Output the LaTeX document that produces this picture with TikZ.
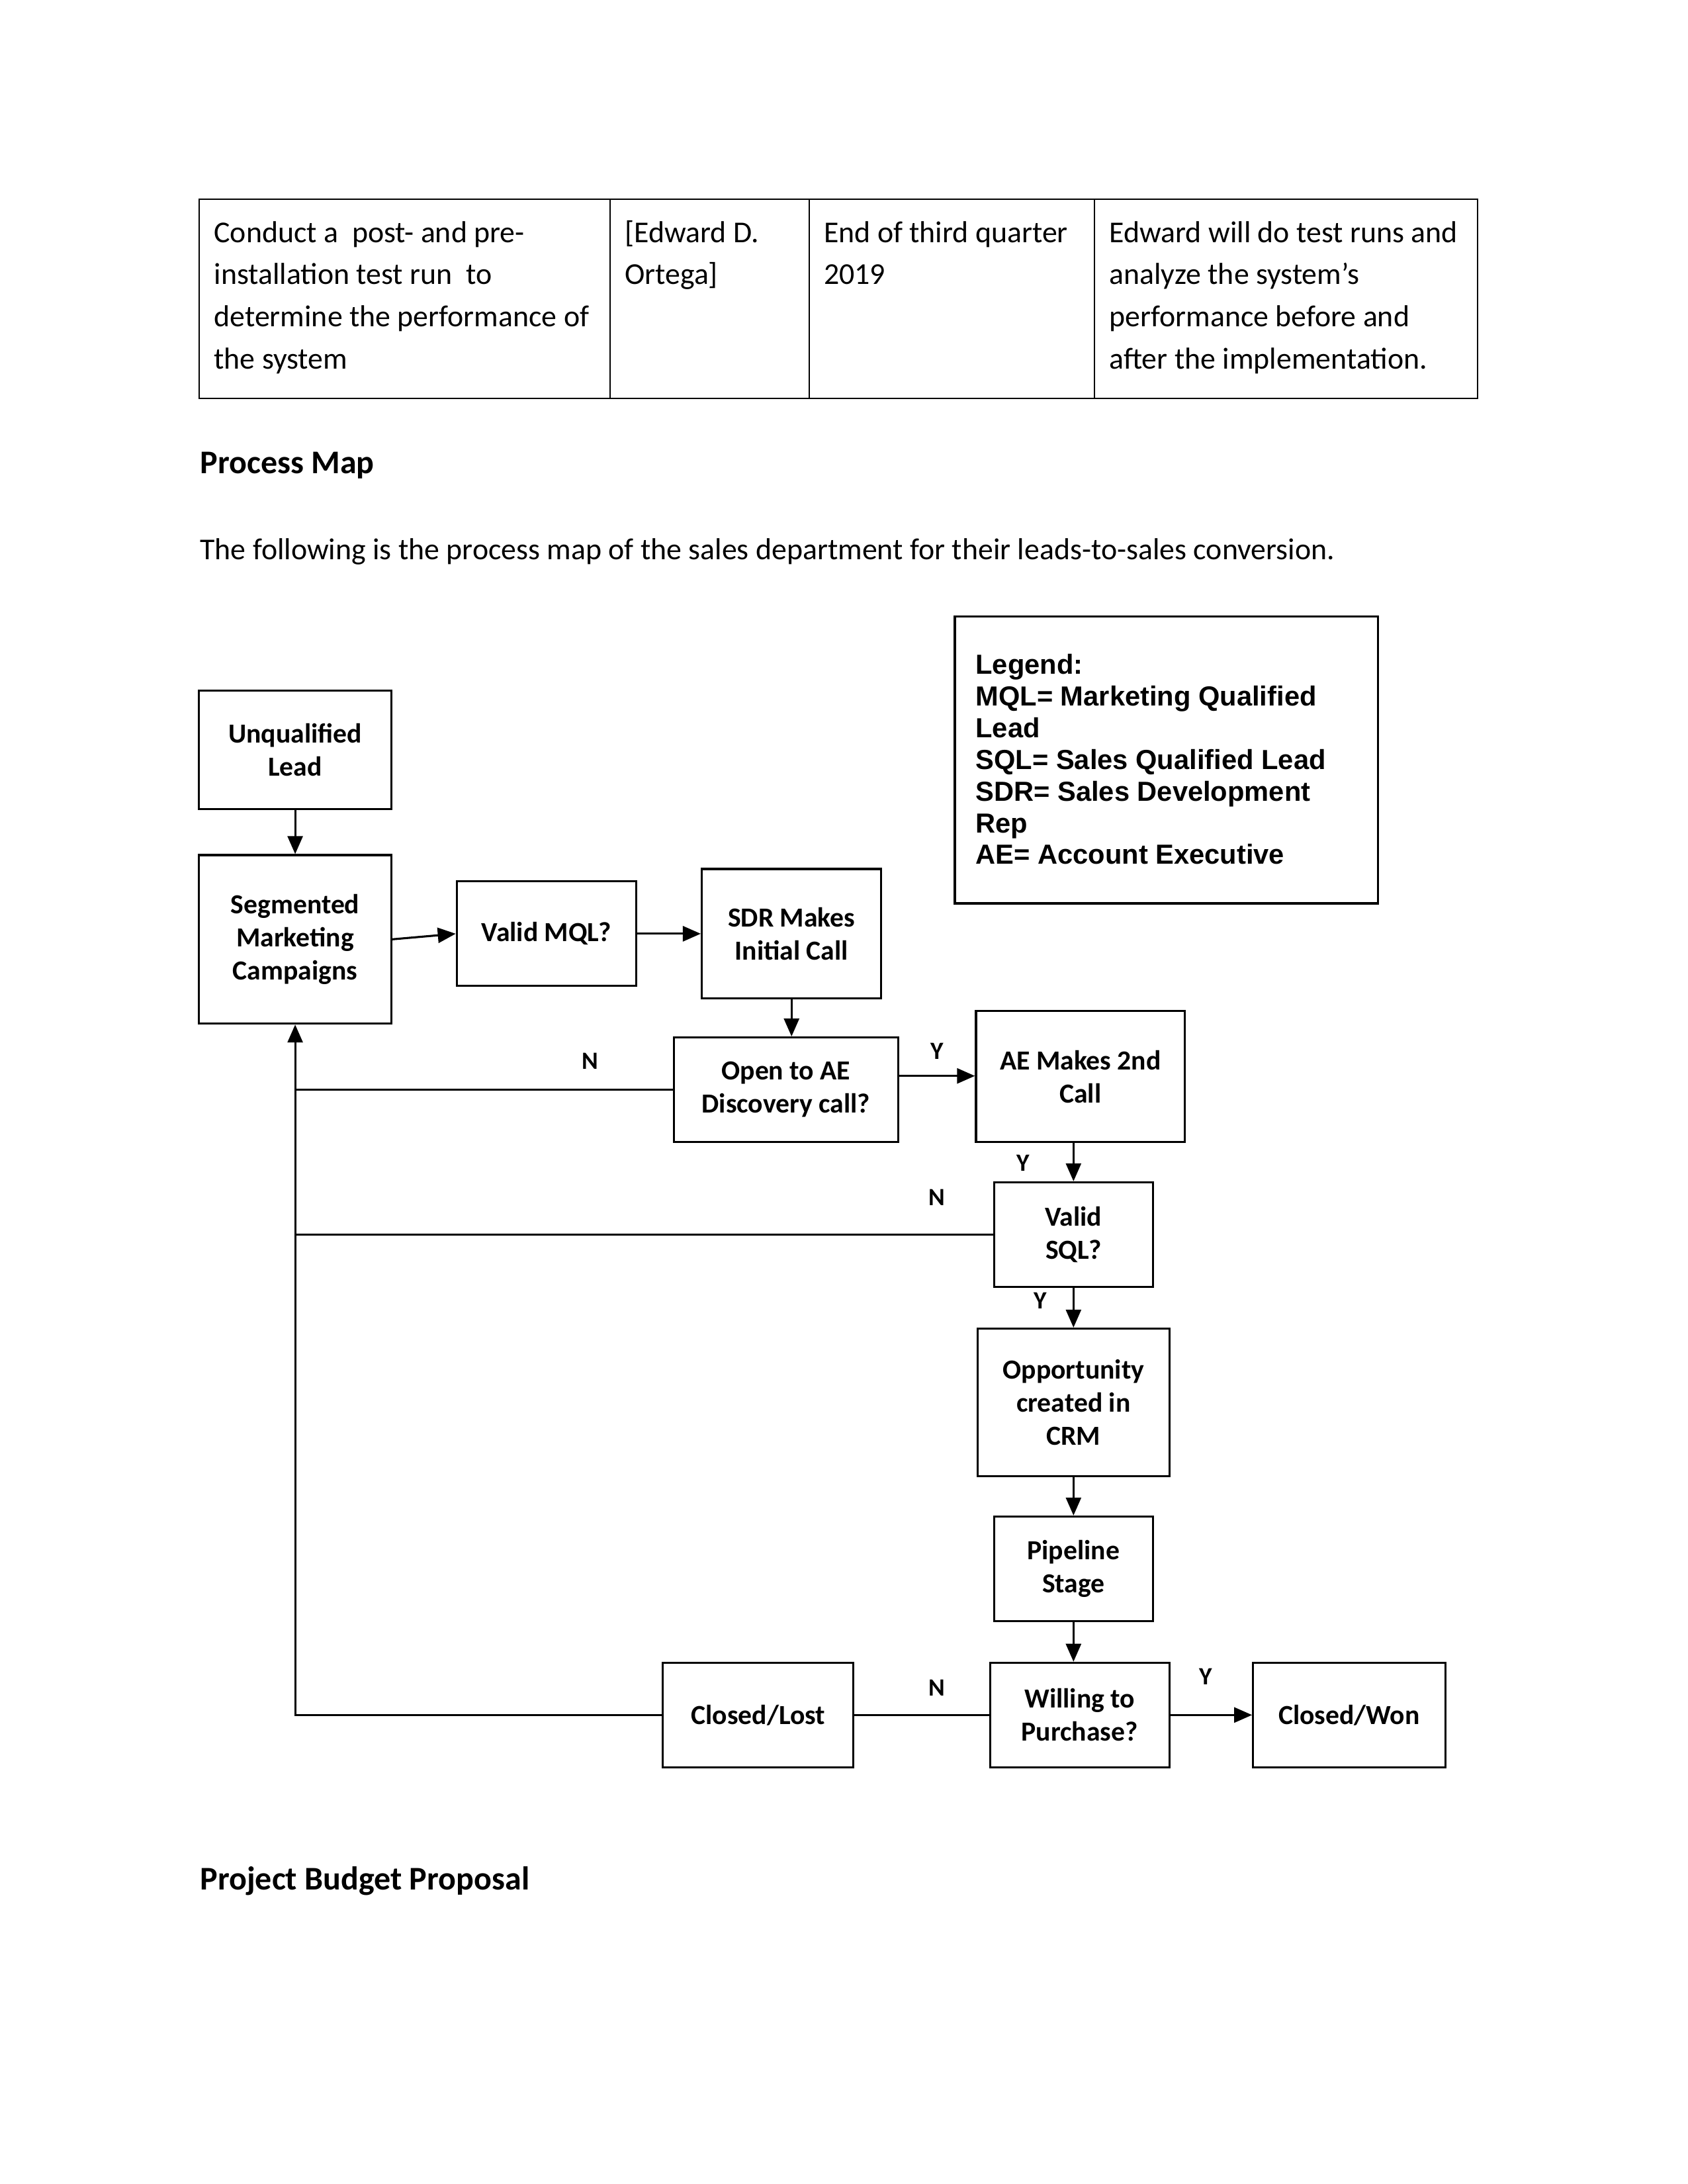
\documentclass[tikz,border=0pt]{standalone}
\usepackage{fontspec}
\setmainfont{Carlito}
\newfontfamily\legendfont{Liberation Sans}
\usetikzlibrary{shapes,arrows.meta,calc}
\tikzstyle{line} = [draw, -{Triangle[length=6.5pt,width=5.5pt]}]
\tikzstyle{link} = [draw]
\tikzstyle{block} = [draw, rectangle, text centered, align=center, inner sep=0pt, font=\bfseries\fontsize{10}{12}\selectfont]
\tikzstyle{answer} = [inner sep=0pt, font=\bfseries\fontsize{9}{10.8}\selectfont]
\tikzstyle{cell} = [anchor=base west, inner sep=0pt, align=flush left, text width=170pt, font=\fontsize{11}{15.3}\selectfont]
\tikzstyle{heading} = [anchor=base west, inner sep=0pt, font=\bfseries\fontsize{12}{14}\selectfont]

\begin{document}
\begin{tikzpicture}[x=0.505pt, y=-0.505pt, line width=0.75pt]
    \useasboundingbox (0,0) rectangle (1211.9,1568.3);
    % table row above the map
    \draw[line width=0.5pt] (143,143) rectangle (1061,286);
    \foreach \x in {438,581,786}
        \draw[line width=0.5pt] (\x,143) -- (\x,286);
    \node[cell] (task) at (153,174) {Conduct a\ \ post- and pre-\\installation test run\ \ to\\determine the performance of\\the system};
    \node[cell] (owner) at (448,174) {[Edward D.\\Ortega]};
    \node[cell] (due) at (591,174) {End of third quarter\\2019};
    \node[cell] (note) at (796,174) {Edward will do test runs and\\analyze the system’s\\performance before and\\after the implementation.};
    \node[heading] (maptitle) at (143,340) {Process Map};
    \node[anchor=base west, inner sep=0pt, font=\fontsize{11}{13}\selectfont] (intro) at (143,402) {The following is the process map of the sales department for their leads-to-sales conversion.};
    \node[heading] (budget) at (143,1357) {Project Budget Proposal};
    % legend
    \node[draw, rectangle, anchor=north west, minimum width=153.5pt, minimum height=104pt] (legend) at (685,442) {};
    \node[anchor=base west, inner sep=0pt, align=flush left, text width=150pt, font=\legendfont\bfseries\fontsize{10}{11.5}\selectfont] (legendtext) at (700,484) {Legend:\\MQL= Marketing Qualified\\Lead\\SQL= Sales Qualified Lead\\SDR= Sales Development\\Rep\\AE= Account Executive};
    % process boxes
    \node[block, minimum width=69.7pt, minimum height=42.9pt] (unqual) at (212,538.5) {Unqualified\\Lead};
    \node[block, minimum width=69.7pt, minimum height=61.1pt] (segment) at (212,674.5) {Segmented\\Marketing\\Campaigns};
    \node[block, minimum width=65.1pt, minimum height=37.9pt] (mql) at (392.5,670.5) {Valid MQL?};
    \node[block, minimum width=65.1pt, minimum height=47pt] (sdr) at (568.5,670.5) {SDR Makes\\Initial Call};
    \node[block, minimum width=81.3pt, minimum height=37.9pt] (discovery) at (564.5,782.5) {Open to AE\\Discovery call?};
    \node[block, minimum width=75.8pt, minimum height=47.5pt] (second) at (776,773) {AE Makes 2nd\\Call};
    \node[block, minimum width=57.6pt, minimum height=37.9pt] (sql) at (771,886.5) {Valid\\SQL?};
    \node[block, minimum width=69.7pt, minimum height=53.5pt] (crm) at (771,1007) {Opportunity\\created in\\CRM};
    \node[block, minimum width=57.6pt, minimum height=37.9pt] (pipeline) at (771,1126.5) {Pipeline\\Stage};
    \node[block, minimum width=65.1pt, minimum height=37.9pt] (purchase) at (775.5,1231.5) {Willing to\\Purchase?};
    \node[block, minimum width=69.2pt, minimum height=37.9pt] (lost) at (544.5,1231.5) {Closed/Lost};
    \node[block, minimum width=69.7pt, minimum height=37.9pt] (won) at (969,1231.5) {Closed/Won};
    % answers
    \node[answer] (discno) at (424,762) {N};
    \node[answer] (discyes) at (673,755) {Y};
    \node[answer] (secondyes) at (735,835) {Y};
    \node[answer] (sqlno) at (673,860) {N};
    \node[answer] (sqlyes) at (747,934) {Y};
    \node[answer] (buyno) at (673,1212) {N};
    \node[answer] (buyyes) at (866,1204) {Y};
    % connectors
    \path[line] (unqual) -- (segment);
    \path[line] (segment.east) -- (mql.west);
    \path[line] (mql.east) -- (sdr.west);
    \path[line] (sdr.south) -- (sdr.south |- discovery.north);
    \path[line] ([yshift=5pt]discovery.east) -- ([yshift=5pt]discovery.east -| second.west);
    \path[link] (discovery.west) -- (discovery.west -| segment.south);
    \path[line] (second.south -| sql.north) -- (sql.north);
    \path[link] (sql.west) -- (sql.west -| segment.south);
    \path[line] (sql) -- (crm);
    \path[line] (crm) -- (pipeline);
    \path[line] (pipeline.south) -- (pipeline.south |- purchase.north);
    \path[line] (purchase) -- (won);
    \path[link] (purchase) -- (lost);
    \path[line] (lost.west) -| (segment.south);
\end{tikzpicture}
\end{document}
